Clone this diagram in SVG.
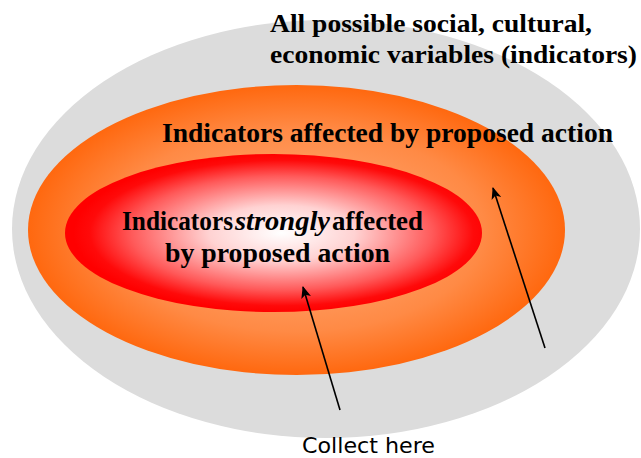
<svg xmlns="http://www.w3.org/2000/svg" width="641" height="458" viewBox="0 0 641 458">
  <style>
    .ttl { font-family: "Liberation Serif", "Times New Roman", serif; font-weight: bold; font-size: 26px; fill: #000; }
    .lbl { font-family: "Liberation Serif", "Times New Roman", serif; font-weight: bold; font-size: 27px; fill: #000; }
    .em { font-style: italic; }
    .note { font-family: "DejaVu Sans", Verdana, sans-serif; font-size: 21px; fill: #000; }
    .arrow { fill: none; stroke: #000; stroke-width: 1.6; marker-end: url(#head); }
  </style>
  <defs>
    <radialGradient id="gOrange" cx="0.5" cy="0.5" r="0.5">
      <stop offset="0" stop-color="#ffb283"/>
      <stop offset="0.7" stop-color="#ff8a45"/>
      <stop offset="1" stop-color="#ff680f"/>
    </radialGradient>
    <radialGradient id="gRed" cx="0.52" cy="0.5" r="0.5">
      <stop offset="0" stop-color="#ffffff"/>
      <stop offset="0.35" stop-color="#ffd2d2"/>
      <stop offset="0.72" stop-color="#ff5a5a"/>
      <stop offset="0.92" stop-color="#ff0a0a"/>
      <stop offset="1" stop-color="#ff0000"/>
    </radialGradient>
    <marker id="head" viewBox="0 0 12 10" refX="11" refY="5" markerWidth="12" markerHeight="10" markerUnits="userSpaceOnUse" orient="auto">
      <path d="M0,0 L12,5 L0,10 L3,5 z" fill="#000"/>
    </marker>
  </defs>

  <!-- outer set: all variables -->
  <g id="all-variables">
    <ellipse cx="326" cy="229" rx="314" ry="209" fill="#dcdcdc"/>
    <text class="ttl" x="270" y="32" textLength="322" lengthAdjust="spacingAndGlyphs">All possible social, cultural,</text>
    <text class="ttl" x="270" y="63" textLength="367" lengthAdjust="spacingAndGlyphs">economic variables (indicators)</text>
  </g>

  <!-- middle set: affected indicators -->
  <g id="affected">
    <ellipse cx="296.5" cy="230" rx="268.5" ry="145" fill="url(#gOrange)"/>
    <text class="lbl" x="162" y="142" textLength="451" lengthAdjust="spacingAndGlyphs">Indicators affected by proposed action</text>
  </g>

  <!-- inner set: strongly affected indicators -->
  <g id="strongly-affected">
    <ellipse cx="273.5" cy="233" rx="208.5" ry="79" fill="url(#gRed)"/>
    <text class="lbl" x="122" y="230" textLength="111" lengthAdjust="spacingAndGlyphs">Indicators</text>
    <text class="lbl em" x="235" y="230" textLength="95" lengthAdjust="spacingAndGlyphs">strongly</text>
    <text class="lbl" x="332" y="230" textLength="91" lengthAdjust="spacingAndGlyphs">affected</text>
    <text class="lbl" x="165" y="262" textLength="225" lengthAdjust="spacingAndGlyphs">by proposed action</text>
  </g>

  <g id="collect-note">
    <text class="note" x="302" y="453" textLength="133" lengthAdjust="spacingAndGlyphs">Collect here</text>
  </g>

  <!-- pointers -->
  <g id="connectors">
    <line class="arrow" x1="340" y1="410" x2="303" y2="287"/>
    <line class="arrow" x1="545" y1="348" x2="493" y2="188"/>
  </g>
</svg>
